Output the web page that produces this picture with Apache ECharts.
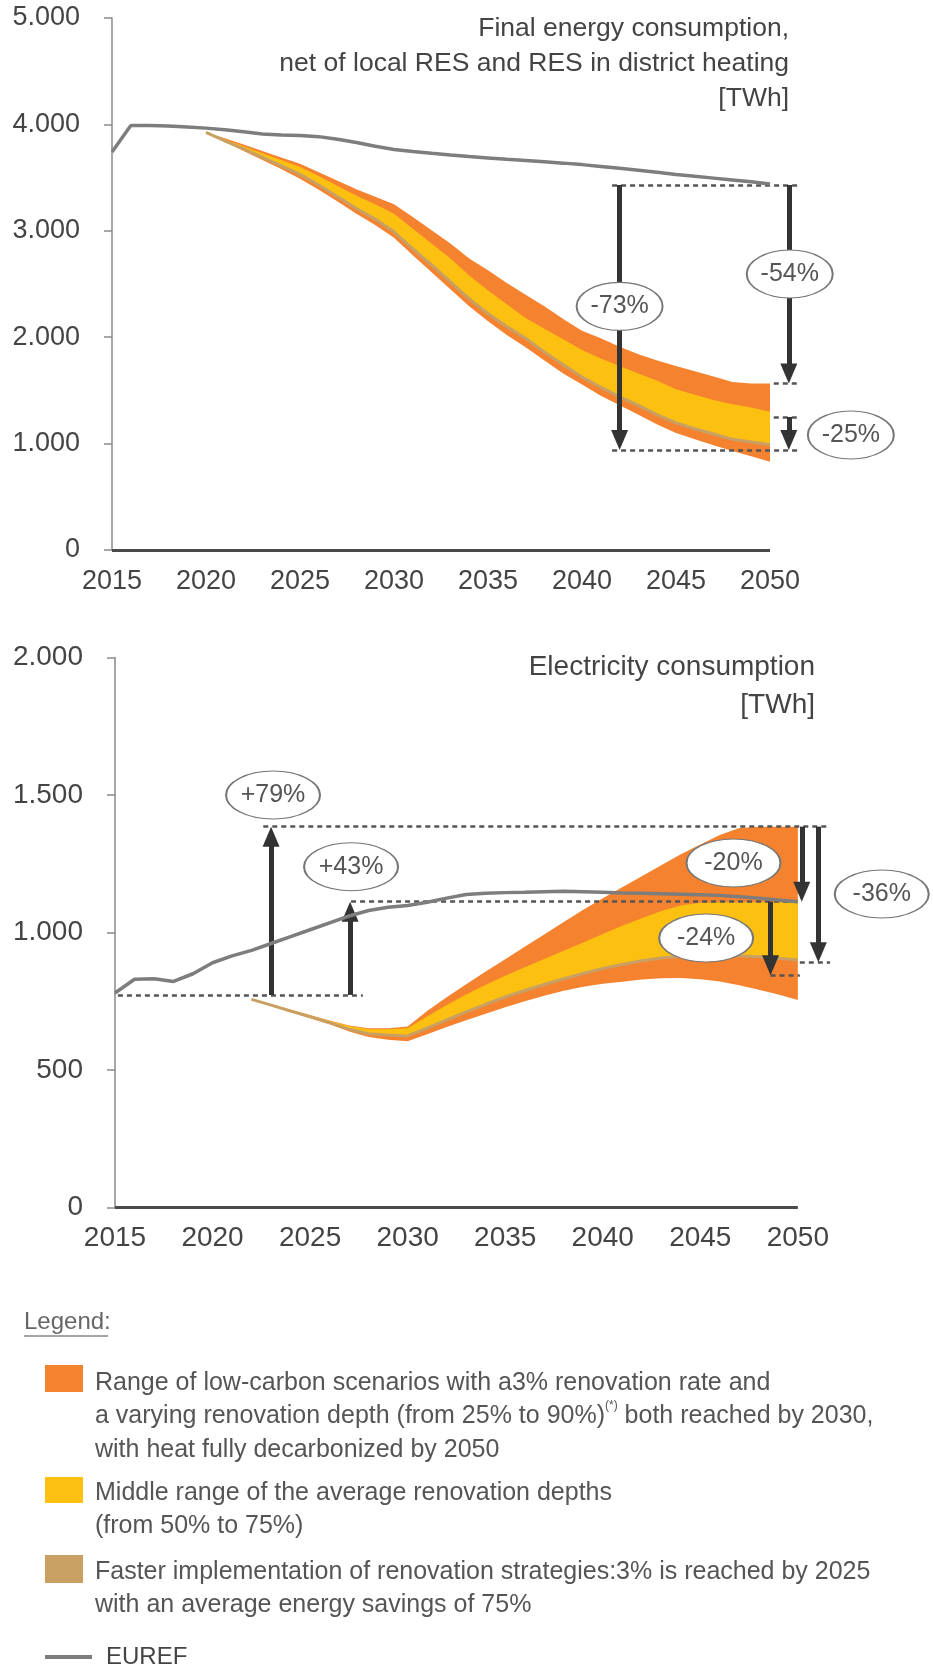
<!DOCTYPE html>
<html><head><meta charset="utf-8">
<script src="https://cdn.jsdelivr.net/npm/echarts@6/dist/echarts.min.js"></script>
<style>html,body{margin:0;padding:0;background:#fff}#c{width:933px;height:1675px}</style>
</head><body><div id="c"></div>
<script>
// ---------- DATA ----------
const xTickYears = [2015, 2020, 2025, 2030, 2035, 2040, 2045, 2050];
const finalTickLabels = {0: '0', 1000: '1.000', 2000: '2.000', 3000: '3.000', 4000: '4.000', 5000: '5.000'};
const elecTickLabels = {0: '0', 500: '500', 1000: '1.000', 1500: '1.500', 2000: '2.000'};

const eurefYears = [2015,2016,2017,2018,2019,2020,2021,2022,2023,2024,2025,2026,2027,2028,2029,2030,2031,2032,2033,2034,2035,2036,2037,2038,2039,2040,2041,2042,2043,2044,2045,2046,2047,2048,2049,2050];
const eurefFinal = [3740,3990,3990,3985,3975,3965,3950,3930,3910,3900,3895,3885,3860,3830,3795,3765,3745,3728,3712,3698,3685,3672,3660,3648,3636,3622,3605,3588,3570,3550,3530,3512,3495,3478,3460,3440];
const eurefElec = [780,830,832,822,850,890,915,935,960,985,1010,1035,1060,1080,1092,1098,1110,1125,1138,1143,1145,1146,1148,1150,1148,1146,1144,1143,1141,1139,1137,1135,1130,1125,1118,1112];

const finalBandYears = [2020,2021,2022,2023,2024,2025,2026,2027,2028,2029,2030,2031,2032,2033,2034,2035,2036,2037,2038,2039,2040,2041,2042,2043,2044,2045,2046,2047,2048,2049,2050];
const finalRangeHigh = [3925,3870,3810,3750,3690,3630,3550,3470,3390,3320,3250,3130,3005,2880,2740,2630,2510,2400,2290,2170,2060,1990,1910,1840,1780,1730,1680,1630,1580,1565,1565];
const finalMidHigh   = [3925,3860,3795,3730,3665,3600,3515,3420,3330,3250,3160,3020,2880,2740,2580,2440,2310,2180,2080,1980,1880,1800,1730,1660,1590,1510,1460,1410,1370,1340,1300];
const finalMidLow    = [3925,3845,3770,3690,3610,3530,3430,3320,3210,3110,2990,2830,2680,2520,2360,2220,2100,1990,1860,1740,1625,1530,1440,1360,1270,1195,1140,1090,1040,1015,990];
const finalRangeLow  = [3925,3835,3750,3665,3580,3490,3385,3275,3160,3055,2935,2770,2610,2450,2290,2150,2020,1905,1780,1660,1555,1450,1360,1270,1180,1100,1040,985,930,880,830];

const elecBandYears = [2022,2023,2024,2025,2026,2027,2028,2029,2030,2031,2032,2033,2034,2035,2036,2037,2038,2039,2040,2041,2042,2043,2044,2045,2046,2047,2048,2049,2050];
const elecRangeHigh = [760,740,720,700,680,662,652,652,658,715,765,812,858,903,948,993,1038,1083,1125,1165,1205,1245,1285,1320,1355,1380,1385,1385,1385];
const elecMidHigh   = [758,738,718,698,678,660,648,648,652,695,736,775,810,843,874,904,934,964,995,1025,1052,1078,1098,1108,1110,1110,1110,1110,1110];
const elecMidLow    = [757,736,714,693,672,648,632,627,624,652,682,711,739,766,789,811,832,851,869,884,897,907,914,918,918,915,912,906,900];
const elecRangeLow  = [755,734,711,689,666,640,620,610,605,630,656,681,705,728,750,770,788,803,814,821,829,834,835,830,822,808,792,775,755];

// annotations: [x1, y1, x2, y2] dashed guides; [x, from, tip] arrows; [text, x, y] callouts
const finalGuides = [[2041.6,3430,2051.6,3430],[2041.6,940,2051.6,940],[2050.2,1565,2051.6,1565],[2050.2,1250,2051.6,1250]];
const finalArrows = [[2042,3430,940],[2051,3430,1565],[2051,1250,940]];
const finalCallouts = [['-73%',2042,2290],['-54%',2051.05,2594],['-25%',2054.3,1081]];
const elecGuides = [[2015.15,773,2027.7,773],[2022.6,1385,2051.65,1385],[2027.1,1112,2050.1,1112],[2050.1,892,2051.65,892],[2048.6,845,2050.1,845]];
const elecArrows = [[2023.0,773,1385],[2027.05,773,1112],[2050.2,1385,1112],[2051.05,1385,892],[2048.6,1112,845]];
const elecCallouts = [['+79%',2023.1,1500],['+43%',2027.1,1239],['-20%',2046.7,1253],['-24%',2045.3,980],['-36%',2054.3,1140]];

// ---------- STYLE / BUILD ----------
const FONT = "'Liberation Sans', Arial, sans-serif";
const ORANGE = '#f5822f', YELLOW = '#fcc010', TAN = '#c9a064', GREY = '#7d7d7d';
const GRIDS = [
  {left: 112, right: 69, top: 18, bottom: 1125, yMax: 5000},
  {left: 115, right: 37.6, top: 657.5, bottom: 467.5, yMax: 2000}
];
const HEAD_LEN = 20, HEAD_W = 17;

const chart = echarts.init(document.getElementById('c'), null, {renderer: 'canvas', width: 933, height: 1675});

function pairs(xs, ys) { return xs.map((x, i) => [x, ys[i]]); }

// one filled polygon between an upper and a lower edge, positioned through the axes
function bandPolygon(idx, xs, upper, lower, color, z) {
  return {type: 'custom', xAxisIndex: idx, yAxisIndex: idx, silent: true, animation: false, z: z,
    data: xs.map((x, i) => [x, lower[i], upper[i]]),
    encode: {x: 0, y: [1, 2]},
    renderItem: function (params, api) {
      if (params.dataIndex !== 0) return;
      const pts = [];
      for (let i = 0; i < xs.length; i++) pts.push(api.coord([xs[i], upper[i]]));
      for (let i = xs.length - 1; i >= 0; i--) pts.push(api.coord([xs[i], lower[i]]));
      return {type: 'polygon', shape: {points: pts}, style: {fill: color, stroke: null}};
    }};
}

function bandSeries(idx, xs, high, midHigh, midLow, low) {
  return [
    bandPolygon(idx, xs, high, low, ORANGE, 1),
    bandPolygon(idx, xs, midHigh, midLow, YELLOW, 2),
    {type: 'line', xAxisIndex: idx, yAxisIndex: idx, data: pairs(xs, midLow), symbol: 'none', z: 3,
      silent: true, animation: false, lineStyle: {color: TAN, width: 3}, emphasis: {disabled: true}}
  ];
}

function eurefSeries(idx, ys) {
  return {type: 'line', xAxisIndex: idx, yAxisIndex: idx, data: pairs(eurefYears, ys), symbol: 'none', z: 6,
    silent: true, animation: false, lineStyle: {color: GREY, width: 3.5}, emphasis: {disabled: true}};
}

function baselineSeries(idx) {
  return {type: 'line', xAxisIndex: idx, yAxisIndex: idx, data: [], z: 6, silent: true, animation: false,
    markLine: {silent: true, animation: false, symbol: ['none', 'none'], label: {show: false}, emphasis: {disabled: true},
      lineStyle: {color: '#4a4a4a', width: 3, type: 'solid'},
      data: [[{coord: [xTickYears[0], 0]}, {coord: [xTickYears[xTickYears.length - 1], 0]}]]}};
}

function guideSeries(idx, segs) {
  return {type: 'line', xAxisIndex: idx, yAxisIndex: idx, data: [], z: 7, silent: true, animation: false,
    markLine: {silent: true, animation: false, symbol: ['none', 'none'], label: {show: false}, emphasis: {disabled: true},
      lineStyle: {color: '#555', width: 2.5, type: [5, 4]},
      data: segs.map(s => [{coord: [s[0], s[1]]}, {coord: [s[2], s[3]]}])}};
}

function arrowSeries(idx, arrows) {
  const g = GRIDS[idx];
  const unitsPerPx = g.yMax / (1675 - g.top - g.bottom);
  return {type: 'line', xAxisIndex: idx, yAxisIndex: idx, data: [], z: 8, silent: true, animation: false,
    markLine: {silent: true, animation: false, symbol: ['none', 'none'], label: {show: false}, emphasis: {disabled: true},
      lineStyle: {color: '#333', width: 5, type: 'solid'},
      data: arrows.map(a => {
        const dir = a[2] < a[1] ? -1 : 1;
        return [{coord: [a[0], a[1]]}, {coord: [a[0], a[2] - dir * unitsPerPx * HEAD_LEN / 2]}];
      })},
    markPoint: {silent: true, animation: false, emphasis: {disabled: true}, symbol: 'triangle',
      symbolSize: [HEAD_W, HEAD_LEN], itemStyle: {color: '#333'}, label: {show: false},
      data: arrows.map(a => {
        const down = a[2] < a[1];
        return {coord: [a[0], a[2]], symbolRotate: down ? 180 : 0, symbolOffset: [0, down ? -HEAD_LEN / 2 : HEAD_LEN / 2]};
      })}};
}

function calloutSeries(idx, items, size, fs) {
  return {type: 'line', xAxisIndex: idx, yAxisIndex: idx, data: [], z: 9, silent: true, animation: false,
    markPoint: {silent: true, animation: false, emphasis: {disabled: true},
      symbol: 'path://M0,50A50,50,0,1,1,100,50A50,50,0,1,1,0,50Z', symbolSize: size, symbolKeepAspect: false,
      itemStyle: {color: '#fff', borderColor: '#777', borderWidth: 1.5},
      label: {show: true, position: 'inside', formatter: '{b}', color: '#555', fontSize: fs, fontFamily: FONT},
      data: items.map(it => ({name: it[0], coord: [it[1], it[2]]}))}};
}

function xAxisFor(idx, fs, margin) {
  return {type: 'value', gridIndex: idx, min: 2015, max: 2055, interval: 5,
    axisLine: {show: false}, axisTick: {show: false}, splitLine: {show: false},
    axisLabel: {fontSize: fs, fontFamily: FONT, color: '#444', margin: margin,
      formatter: v => (xTickYears.indexOf(v) >= 0 ? String(v) : '')}};
}
function yAxisFor(idx, interval, labels, fs) {
  return {type: 'value', gridIndex: idx, min: 0, max: GRIDS[idx].yMax, interval: interval,
    axisLine: {show: true, lineStyle: {color: '#8a8a8a', width: 1.5}},
    axisTick: {show: true, length: 8, lineStyle: {color: '#8a8a8a', width: 1.5}},
    splitLine: {show: false},
    axisLabel: {fontSize: fs, fontFamily: FONT, color: '#444', margin: 32,
      formatter: v => (labels[v] !== undefined ? labels[v] : '')}};
}

const legendText = {fontSize: 25, fontFamily: FONT, fill: '#555', lineHeight: 33.5};

const option = {
  backgroundColor: '#fff',
  animation: false,
  grid: GRIDS.map(g => ({left: g.left, right: g.right, top: g.top, bottom: g.bottom})),
  xAxis: [xAxisFor(0, 27, 18), xAxisFor(1, 28, 17)],
  yAxis: [yAxisFor(0, 1000, finalTickLabels, 27), yAxisFor(1, 500, elecTickLabels, 28)],
  series: [].concat(
    bandSeries(0, finalBandYears, finalRangeHigh, finalMidHigh, finalMidLow, finalRangeLow),
    [eurefSeries(0, eurefFinal), baselineSeries(0), guideSeries(0, finalGuides), arrowSeries(0, finalArrows),
     calloutSeries(0, finalCallouts, [86, 48], 25)],
    bandSeries(1, elecBandYears, elecRangeHigh, elecMidHigh, elecMidLow, elecRangeLow),
    [eurefSeries(1, eurefElec), baselineSeries(1), guideSeries(1, elecGuides), arrowSeries(1, elecArrows),
     calloutSeries(1, elecCallouts, [94, 48], 25)]
  ),
  graphic: [
    {type: 'text', x: 789, y: 11, silent: true, style: {text: 'Final energy consumption,\nnet of local RES and RES in district heating\n[TWh]',
      align: 'right', verticalAlign: 'top', fontSize: 26.5, fontFamily: FONT, lineHeight: 35, fill: '#444'}},
    {type: 'text', x: 815, y: 648, silent: true, style: {text: 'Electricity consumption\n[TWh]',
      align: 'right', verticalAlign: 'top', fontSize: 28, fontFamily: FONT, lineHeight: 38, fill: '#444'}},
    {type: 'text', x: 24, y: 1322, silent: true, style: {text: 'Legend:', verticalAlign: 'middle', fontSize: 24, fontFamily: FONT, fill: '#666'}},
    {type: 'line', silent: true, shape: {x1: 24, y1: 1336, x2: 108, y2: 1336}, style: {stroke: '#888', lineWidth: 1.5}},
    {type: 'rect', silent: true, shape: {x: 45, y: 1365, width: 38, height: 27}, style: {fill: ORANGE}},
    {type: 'text', x: 95, y: 1366, silent: true, style: {
      text: '{n|Range of low-carbon scenarios with a3% renovation rate and}\n{n|a varying renovation depth (from 25% to 90%)}{s|(*)}{n| both reached by 2030,}\n{n|with heat fully decarbonized by 2050}',
      verticalAlign: 'top', rich: {n: legendText, s: {fontSize: 12, fontFamily: FONT, fill: '#555', lineHeight: 20, verticalAlign: 'top'}}}},
    {type: 'rect', silent: true, shape: {x: 45, y: 1477, width: 38, height: 26}, style: {fill: YELLOW}},
    {type: 'text', x: 95, y: 1476, silent: true, style: {text: 'Middle range of the average renovation depths\n(from 50% to 75%)',
      verticalAlign: 'top', fontSize: 25, fontFamily: FONT, fill: '#555', lineHeight: 33.5}},
    {type: 'rect', silent: true, shape: {x: 45, y: 1555, width: 38, height: 28}, style: {fill: TAN}},
    {type: 'text', x: 95, y: 1555, silent: true, style: {text: 'Faster implementation of renovation strategies:3% is reached by 2025\nwith an average energy savings of 75%',
      verticalAlign: 'top', fontSize: 25, fontFamily: FONT, fill: '#555', lineHeight: 33.5}},
    {type: 'line', silent: true, shape: {x1: 45, y1: 1657, x2: 92, y2: 1657}, style: {stroke: GREY, lineWidth: 4}},
    {type: 'text', x: 106, y: 1657, silent: true, style: {text: 'EUREF', verticalAlign: 'middle', fontSize: 24, fontFamily: FONT, fill: '#444'}}
  ]
};
chart.setOption(option);
</script>
</body></html>
